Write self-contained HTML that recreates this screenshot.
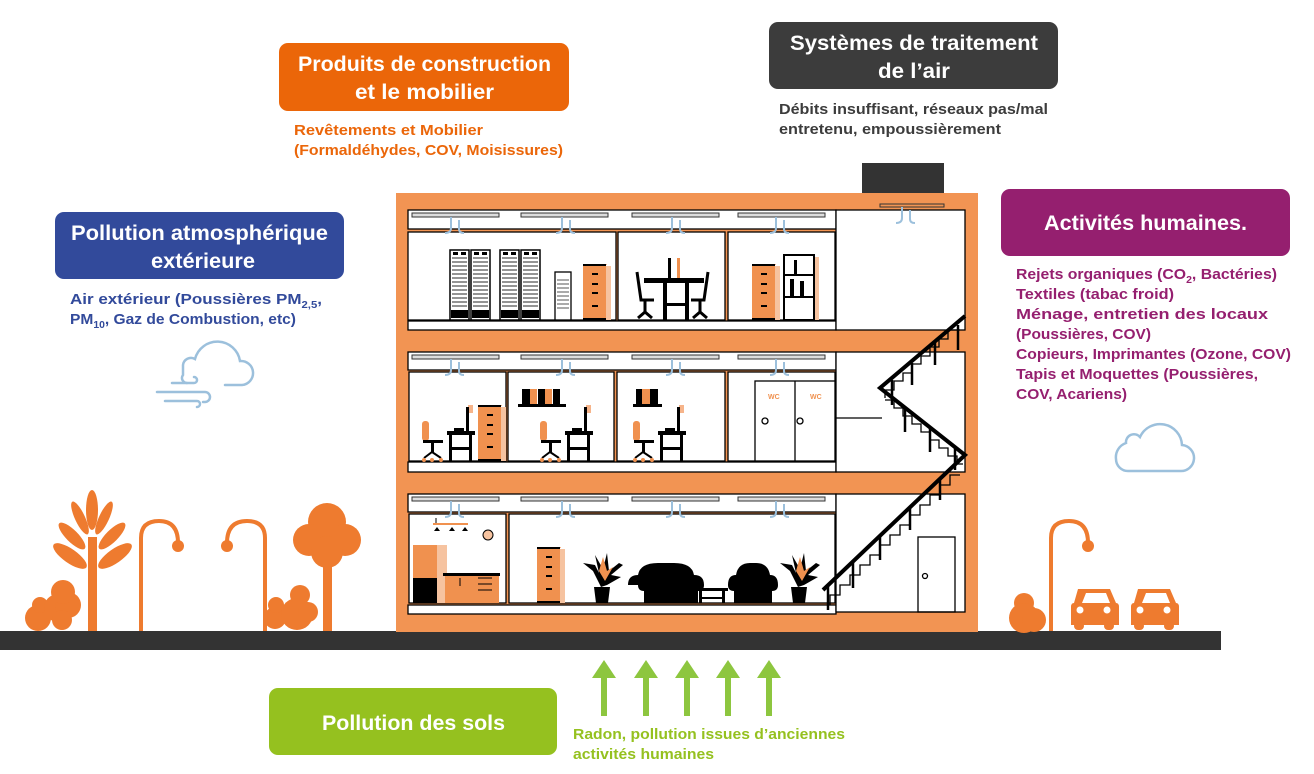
<!DOCTYPE html>
<html><head><meta charset="utf-8"><style>
html,body{margin:0;padding:0;background:#fff;}
svg{display:block;}
text{font-family:"Liberation Sans Narrow","Liberation Sans",sans-serif;font-weight:bold;}
</style></head><body>
<svg width="1314" height="774" viewBox="0 0 1314 774" xmlns="http://www.w3.org/2000/svg">
<defs>
<g id="hook" fill="none" stroke="#9cc0dc" stroke-width="2">
<path d="M0,0 v11 q0,5 -6,5"/><path d="M8,3 v9 q0,4 5,4"/>
</g>
<g id="desk">
<rect x="0" y="-40" width="7" height="20" rx="3" fill="#f0914f"/>
<rect x="1" y="-21" width="20" height="3" fill="#000"/>
<rect x="9" y="-18" width="3" height="10" fill="#000"/>
<path d="M2,-3 L10,-9 L19,-3" stroke="#000" stroke-width="2" fill="none"/>
<circle cx="2" cy="-1" r="2" fill="#f0914f"/><circle cx="10" cy="-1" r="2" fill="#f0914f"/><circle cx="19" cy="-1" r="2" fill="#f0914f"/>
<rect x="25" y="-30" width="28" height="4" fill="#000"/>
<rect x="27" y="-30" width="3" height="30" fill="#000"/>
<rect x="47" y="-30" width="3" height="30" fill="#000"/>
<rect x="27" y="-14" width="23" height="3" fill="#000"/>
<rect x="46" y="-56" width="5" height="8" fill="#f6b48a"/>
<rect x="44" y="-54" width="3" height="24" fill="#000"/>
<rect x="32" y="-33" width="10" height="3" fill="#000"/>
</g>
<g id="cab">
<rect x="4" y="0" width="20" height="1" fill="#f6b48a"/>
<rect x="0" y="0" width="23" height="56" fill="#f0914f"/>
<rect x="23" y="2" width="5" height="54" fill="#f6c3a0"/>
<rect x="0" y="0" width="23" height="2" fill="#000"/>
<rect x="0" y="54" width="23" height="2" fill="#000"/>
<rect x="9" y="9" width="6" height="2" fill="#000"/><rect x="9" y="19" width="6" height="2" fill="#000"/><rect x="9" y="28" width="6" height="2" fill="#000"/><rect x="9" y="41" width="6" height="2" fill="#000"/>
</g>
<g id="rack">
<rect x="0" y="0" width="19" height="70" fill="#fff" stroke="#000" stroke-width="1.5"/>
<path d="M2,8h15M2,12h15M2,16h15M2,20h15M2,24h15M2,28h15M2,32h15M2,36h15M2,40h15M2,44h15M2,48h15M2,52h15M2,56h15" stroke="#555" stroke-width="1.3"/>
<rect x="1" y="60" width="17" height="8" fill="#000"/>
<rect x="3" y="2" width="5" height="3" fill="#000"/><rect x="11" y="2" width="5" height="3" fill="#000"/>
</g>
<g id="plant">
<path d="M0,-6 L-8,-22 L-18,-30 L-6,-28 L-2,-20 L-6,-38 L2,-24 L6,-40 L8,-22 L18,-30 L22,-28 L10,-18 L20,-16 L6,-8 Z" fill="#000"/>
<path d="M-2,-22 L2,-36 L6,-22 L12,-26 L4,-12 Z" fill="#f0914f"/>
<path d="M-7,-6 h16 l-2,16 h-12 z" fill="#000"/>
</g>
</defs>

<!-- Ground -->
<rect x="0" y="631" width="1221" height="19" fill="#333"/>

<!-- Building -->
<rect x="862" y="163" width="82" height="32" fill="#333"/>
<rect x="396" y="193" width="582" height="439" fill="#f29453"/>

<!-- Floors -->
<g stroke="#000" stroke-width="1.3">
<!-- top -->
<rect x="408" y="210" width="428" height="19" fill="#fff"/>
<rect x="408" y="232" width="208" height="88" fill="#fff"/>
<rect x="618" y="232" width="107" height="88" fill="#fff"/>
<rect x="728" y="232" width="107" height="88" fill="#fff"/>
<rect x="408" y="321" width="428" height="9" fill="#fff"/>
<rect x="836" y="210" width="129" height="120" fill="#fff"/>
<!-- middle -->
<rect x="408" y="352" width="428" height="18" fill="#fff"/>
<rect x="409" y="372" width="97" height="89" fill="#fff"/>
<rect x="508" y="372" width="106" height="89" fill="#fff"/>
<rect x="617" y="372" width="108" height="89" fill="#fff"/>
<rect x="728" y="372" width="107" height="89" fill="#fff"/>
<rect x="408" y="462" width="428" height="10" fill="#fff"/>
<rect x="836" y="352" width="129" height="120" fill="#fff"/>
<!-- bottom -->
<rect x="408" y="494" width="428" height="18" fill="#fff"/>
<rect x="409" y="514" width="97" height="89" fill="#fff"/>
<rect x="509" y="514" width="326" height="89" fill="#fff"/>
<rect x="408" y="605" width="428" height="9" fill="#fff"/>
<rect x="836" y="494" width="129" height="118" fill="#fff"/>
</g>

<!-- ceiling fixtures -->
<g fill="#ddd" stroke="#333" stroke-width="1">
<rect x="412" y="213" width="87" height="4"/><rect x="521" y="213" width="87" height="4"/><rect x="632" y="213" width="87" height="4"/><rect x="738" y="213" width="87" height="4"/>
<rect x="412" y="355" width="87" height="4"/><rect x="521" y="355" width="87" height="4"/><rect x="632" y="355" width="87" height="4"/><rect x="738" y="355" width="87" height="4"/>
<rect x="412" y="497" width="87" height="4"/><rect x="521" y="497" width="87" height="4"/><rect x="632" y="497" width="87" height="4"/><rect x="738" y="497" width="87" height="4"/>
<rect x="880" y="204" width="64" height="3" fill="#f29453"/>
</g>
<g>
<use href="#hook" x="451" y="217"/><use href="#hook" x="562" y="217"/><use href="#hook" x="672" y="217"/><use href="#hook" x="776" y="217"/>
<use href="#hook" x="451" y="359"/><use href="#hook" x="562" y="359"/><use href="#hook" x="672" y="359"/><use href="#hook" x="776" y="359"/>
<use href="#hook" x="451" y="501"/><use href="#hook" x="562" y="501"/><use href="#hook" x="672" y="501"/><use href="#hook" x="776" y="501"/>
<use href="#hook" x="902" y="207"/>
</g>

<!-- Top floor furniture -->
<use href="#rack" x="450" y="250"/><use href="#rack" x="471" y="250"/>
<use href="#rack" x="500" y="250"/><use href="#rack" x="521" y="250"/>
<rect x="555" y="272" width="16" height="48" fill="#fff" stroke="#000" stroke-width="1.3"/>
<path d="M557,280h12M557,284h12M557,288h12M557,292h12M557,296h12M557,300h12M557,304h12M557,308h12" stroke="#555"/>
<use href="#cab" x="583" y="264"/>
<!-- table -->
<rect x="644" y="278" width="60" height="5" fill="#000"/>
<rect x="663" y="283" width="4" height="37" fill="#000"/><rect x="685" y="283" width="4" height="37" fill="#000"/>
<rect x="663" y="303" width="26" height="3" fill="#000"/>
<rect x="668" y="258" width="3" height="20" fill="#000"/><rect x="677" y="258" width="3" height="20" fill="#f0914f"/>
<path d="M637,272 L641,300 L654,300 M645,300 v12 M638,318 l7,-6 l7,6" stroke="#000" stroke-width="3" fill="none"/>
<path d="M708,272 L704,300 L691,300 M700,300 v12 M693,318 l7,-6 l7,6" stroke="#000" stroke-width="3" fill="none"/>
<use href="#cab" x="752" y="264"/>
<rect x="784" y="255" width="30" height="65" fill="#fff" stroke="#000" stroke-width="2"/>
<path d="M784,275h30M784,297h30" stroke="#000" stroke-width="2"/>
<rect x="794" y="260" width="3" height="15" fill="#000"/><rect x="790" y="279" width="4" height="18" fill="#000"/><rect x="800" y="281" width="4" height="16" fill="#000"/>
<rect x="815" y="257" width="4" height="63" fill="#f6c3a0"/>

<!-- Middle floor furniture -->
<use href="#desk" x="422" y="461"/>
<use href="#cab" x="478" y="405"/>
<use href="#desk" x="540" y="461"/>
<rect x="518" y="404" width="48" height="3" fill="#000"/>
<rect x="522" y="389" width="8" height="15" fill="#000"/><rect x="530" y="389" width="7" height="15" fill="#f0914f"/><rect x="538" y="389" width="7" height="15" fill="#000"/><rect x="545" y="389" width="7" height="15" fill="#f0914f"/><rect x="553" y="389" width="7" height="15" fill="#000"/>
<use href="#desk" x="633" y="461"/>
<rect x="633" y="404" width="29" height="3" fill="#000"/>
<rect x="636" y="389" width="6" height="15" fill="#000"/><rect x="642" y="389" width="8" height="15" fill="#f0914f"/><rect x="650" y="389" width="8" height="15" fill="#000"/>
<rect x="755" y="381" width="80" height="80" fill="#fff" stroke="#000" stroke-width="1.3"/>
<line x1="795" y1="381" x2="795" y2="461" stroke="#000" stroke-width="1.3"/>
<text x="768" y="399" font-size="7" fill="#f0914f">WC</text><text x="810" y="399" font-size="7" fill="#f0914f">WC</text>
<circle cx="765" cy="421" r="3" fill="none" stroke="#000" stroke-width="1.3"/><circle cx="800" cy="421" r="3" fill="none" stroke="#000" stroke-width="1.3"/>

<!-- Bottom floor furniture -->
<path d="M436,518 v6 M444,524 h24" stroke="#000" stroke-width="1"/>
<rect x="433" y="523" width="35" height="2" fill="#f0914f"/>
<path d="M437,527 l-3,4h6z M452,527 l-3,4h6z M465,527 l-3,4h6z" fill="#000"/>
<circle cx="488" cy="535" r="5" fill="#f6c3a0" stroke="#000" stroke-width="1"/>
<rect x="413" y="545" width="24" height="58" fill="#f0914f"/>
<rect x="437" y="545" width="10" height="58" fill="#f6c3a0"/>
<rect x="413" y="578" width="24" height="25" fill="#000"/>
<rect x="443" y="573" width="57" height="3" fill="#000"/>
<rect x="445" y="576" width="54" height="27" fill="#f0914f"/>
<path d="M460,578v8M478,578h14M478,584h14M478,590h14" stroke="#000" stroke-width="1"/>
<use href="#cab" x="537" y="547"/>
<use href="#plant" x="601" y="593"/>
<path d="M628,585 q0,-10 10,-10 q2,-12 20,-12 h16 q18,0 20,12 q10,0 10,10 q0,6 -6,6 v12 h-54 v-12 q-6,0 -6,-6z" fill="#000"/>
<rect x="696" y="588" width="32" height="3" fill="#000"/><rect x="699" y="591" width="3" height="12" fill="#000"/><rect x="722" y="591" width="3" height="12" fill="#000"/><rect x="699" y="597" width="26" height="2" fill="#000"/>
<path d="M728,585 q0,-10 8,-10 q2,-12 14,-12 h6 q12,0 14,12 q8,0 8,10 q0,6 -6,6 v12 h-38 v-12 q-6,0 -6,-6z" fill="#000"/>
<use href="#plant" x="798" y="593"/>

<!-- Stairs -->
<g fill="none" stroke="#000" stroke-width="1.3">
<polyline points="885,398 885,390 894,390 894,381 903,381 903,373 912,373 912,364 921,364 921,356 930,356 930,347 939,347 939,339 948,339 948,330 960,330"/>
<polyline points="885,400 894,400 894,408 903,408 903,416 912,416 912,424 921,424 921,432 930,432 930,440 939,440 939,448 948,448 948,456 957,456 957,464 963,464"/>
<polyline points="830,605 830,595 840,595 840,585 850,585 850,575 860,575 860,565 870,565 870,555 880,555 880,545 890,545 890,535 900,535 900,525 910,525 910,515 920,515 920,505 930,505 930,495 940,495 940,485 950,485 950,475 960,475"/>
<line x1="836" y1="418" x2="882" y2="418"/>
<rect x="918" y="537" width="37" height="75"/>
<circle cx="925" cy="576" r="2.5"/>
</g>
<path d="M965,316 L880,388 L965,455 L823,590" fill="none" stroke="#000" stroke-width="4"/>
<g stroke="#000" stroke-width="2.5">
<line x1="958" y1="325" x2="958" y2="350"/><line x1="935" y1="343" x2="935" y2="365"/><line x1="912" y1="363" x2="912" y2="385"/><line x1="892" y1="380" x2="892" y2="405"/>
<line x1="905" y1="408" x2="905" y2="432"/><line x1="930" y1="428" x2="930" y2="452"/><line x1="955" y1="447" x2="955" y2="470"/>
<line x1="940" y1="478" x2="940" y2="500"/><line x1="910" y1="506" x2="910" y2="530"/><line x1="880" y1="535" x2="880" y2="560"/><line x1="853" y1="562" x2="853" y2="588"/><line x1="828" y1="585" x2="828" y2="610"/>
</g>

<!-- Vegetation left -->
<g fill="#ee7b2f">
<rect x="88" y="537" width="9" height="94"/>
<ellipse cx="92" cy="510" rx="6" ry="20"/>
<ellipse cx="80" cy="518" rx="5" ry="18" transform="rotate(-25 80 518)"/>
<ellipse cx="104" cy="518" rx="5" ry="18" transform="rotate(25 104 518)"/>
<ellipse cx="72" cy="536" rx="6" ry="18" transform="rotate(-45 72 536)"/>
<ellipse cx="112" cy="536" rx="6" ry="18" transform="rotate(45 112 536)"/>
<ellipse cx="70" cy="556" rx="7" ry="20" transform="rotate(-55 70 556)"/>
<ellipse cx="115" cy="556" rx="7" ry="20" transform="rotate(55 115 556)"/>
<circle cx="38" cy="618" r="13"/><circle cx="40" cy="605" r="8"/>
<circle cx="58" cy="608" r="14"/><circle cx="68" cy="605" r="13"/><circle cx="63" cy="592" r="12"/><circle cx="62" cy="620" r="10"/>
<circle cx="327" cy="522" r="19"/><circle cx="309" cy="540" r="16"/><circle cx="345" cy="540" r="16"/><circle cx="327" cy="552" r="16"/>
<rect x="323" y="540" width="9" height="91"/>
<circle cx="275" cy="618" r="11"/><circle cx="276" cy="605" r="8"/><circle cx="300" cy="595" r="10"/><circle cx="297" cy="614" r="16"/><circle cx="308" cy="612" r="10"/>
<circle cx="178" cy="546" r="6"/><circle cx="227" cy="546" r="6"/>
<circle cx="1088" cy="546" r="6"/>
<!-- right -->
<circle cx="1024" cy="603" r="10"/><circle cx="1024" cy="618" r="15"/><circle cx="1034" cy="620" r="12"/>
<path d="M1078,589 h32 l6,14 q3,0 3,4 v18 h-48 v-18 q0,-4 3,-4z"/>
<path d="M1138,589 h32 l6,14 q3,0 3,4 v18 h-48 v-18 q0,-4 3,-4z"/>
<rect x="1074" y="622" width="10" height="8" rx="4"/><rect x="1104" y="622" width="10" height="8" rx="4"/>
<rect x="1134" y="622" width="10" height="8" rx="4"/><rect x="1164" y="622" width="10" height="8" rx="4"/>
</g>
<g fill="#fff">
<path d="M1082,603 l4,-10 h20 l4,10z"/><circle cx="1080" cy="610" r="3.5"/><circle cx="1107" cy="610" r="3.5"/>
<path d="M1142,603 l4,-10 h20 l4,10z"/><circle cx="1140" cy="610" r="3.5"/><circle cx="1167" cy="610" r="3.5"/>
</g>
<g fill="none" stroke="#ee7b2f" stroke-width="4">
<path d="M141,631 V538 q0,-17 18,-17 q19,0 19,22"/>
<path d="M265,631 V538 q0,-17 -18,-17 q-20,0 -20,22"/>
<path d="M1051,631 V538 q0,-17 18,-17 q19,0 19,22"/>
</g>

<!-- Clouds -->
<g fill="none" stroke="#9cc0dc" stroke-width="2.5" stroke-linecap="round">
<path d="M225,385 h17 a12,12 0 0 0 -2,-24 a23,23 0 0 0 -45,-2 a8,8 0 0 0 -12,6 v10 a5,5 0 0 0 4,8"/>
<path d="M172,383 h22 a3,3 0 0 0 0,-6"/>
<path d="M157,392 h48 a5,5 0 0 1 0,10 h-2"/>
<path d="M165,401 h32 a3,3 0 0 1 0,6"/>
<path d="M1140,471 h40 a13,13 0 0 0 2,-26 a22,22 0 0 0 -42,-8 a8,8 0 0 0 -14,6 a15,15 0 0 0 -10,16 a12,12 0 0 0 12,12z"/>
</g>

<!-- Green arrows -->
<g fill="#8dc63f">
<path d="M601,716 v-38 h-9 l12,-18 l12,18 h-9 v38z"/>
<path d="M643,716 v-38 h-9 l12,-18 l12,18 h-9 v38z"/>
<path d="M684,716 v-38 h-9 l12,-18 l12,18 h-9 v38z"/>
<path d="M725,716 v-38 h-9 l12,-18 l12,18 h-9 v38z"/>
<path d="M766,716 v-38 h-9 l12,-18 l12,18 h-9 v38z"/>
</g>

<!-- Label boxes -->
<rect x="279" y="43" width="290" height="68" rx="9" fill="#eb6609"/>
<text x="298" y="71" font-size="21" fill="#fff" textLength="253" lengthAdjust="spacingAndGlyphs">Produits de construction</text>
<text x="355" y="99" font-size="21" fill="#fff" textLength="139" lengthAdjust="spacingAndGlyphs">et le mobilier</text>
<text x="294" y="135" font-size="15" fill="#eb6609" textLength="189" lengthAdjust="spacingAndGlyphs">Revêtements et Mobilier</text>
<text x="294" y="155" font-size="15" fill="#eb6609" textLength="269" lengthAdjust="spacingAndGlyphs">(Formaldéhydes, COV, Moisissures)</text>

<rect x="769" y="22" width="289" height="67" rx="9" fill="#3c3c3c"/>
<text x="790" y="50" font-size="21" fill="#fff" textLength="248" lengthAdjust="spacingAndGlyphs">Systèmes de traitement</text>
<text x="878" y="78" font-size="21" fill="#fff" textLength="72" lengthAdjust="spacingAndGlyphs">de l’air</text>
<text x="779" y="114" font-size="15" fill="#3c3c3c" textLength="269" lengthAdjust="spacingAndGlyphs">Débits insuffisant, réseaux pas/mal</text>
<text x="779" y="134" font-size="15" fill="#3c3c3c" textLength="222" lengthAdjust="spacingAndGlyphs">entretenu, empoussièrement</text>

<rect x="55" y="212" width="289" height="67" rx="9" fill="#324a9b"/>
<text x="71" y="240" font-size="21" fill="#fff" textLength="257" lengthAdjust="spacingAndGlyphs">Pollution atmosphérique</text>
<text x="151" y="268" font-size="21" fill="#fff" textLength="104" lengthAdjust="spacingAndGlyphs">extérieure</text>
<text x="70" y="304" font-size="15" fill="#324a9b" textLength="252" lengthAdjust="spacingAndGlyphs">Air extérieur (Poussières PM<tspan font-size="10" dy="4">2,5</tspan><tspan dy="-4">,</tspan></text>
<text x="70" y="324" font-size="15" fill="#324a9b" textLength="226" lengthAdjust="spacingAndGlyphs">PM<tspan font-size="10" dy="4">10</tspan><tspan dy="-4">, Gaz de Combustion, etc)</tspan></text>

<rect x="1001" y="189" width="289" height="67" rx="9" fill="#951f6f"/>
<text x="1044" y="230" font-size="21" fill="#fff" textLength="203" lengthAdjust="spacingAndGlyphs">Activités humaines.</text>
<g font-size="15" fill="#951f6f">
<text x="1016" y="279" textLength="261" lengthAdjust="spacingAndGlyphs">Rejets organiques (CO<tspan font-size="10" dy="4">2</tspan><tspan dy="-4">, Bactéries)</tspan></text>
<text x="1016" y="299" textLength="158" lengthAdjust="spacingAndGlyphs">Textiles (tabac froid)</text>
<text x="1016" y="319" textLength="252" lengthAdjust="spacingAndGlyphs">Ménage, entretien des locaux</text>
<text x="1016" y="339" textLength="135" lengthAdjust="spacingAndGlyphs">(Poussières, COV)</text>
<text x="1016" y="359" textLength="275" lengthAdjust="spacingAndGlyphs">Copieurs, Imprimantes (Ozone, COV)</text>
<text x="1016" y="379" textLength="242" lengthAdjust="spacingAndGlyphs">Tapis et Moquettes (Poussières,</text>
<text x="1016" y="399" textLength="111" lengthAdjust="spacingAndGlyphs">COV, Acariens)</text>
</g>

<rect x="269" y="688" width="288" height="67" rx="9" fill="#95c11f"/>
<text x="322" y="730" font-size="21" fill="#fff" textLength="183" lengthAdjust="spacingAndGlyphs">Pollution des sols</text>
<text x="573" y="739" font-size="15" fill="#95c11f" textLength="272" lengthAdjust="spacingAndGlyphs">Radon, pollution issues d’anciennes</text>
<text x="573" y="759" font-size="15" fill="#95c11f" textLength="141" lengthAdjust="spacingAndGlyphs">activités humaines</text>
</svg>
</body></html>
